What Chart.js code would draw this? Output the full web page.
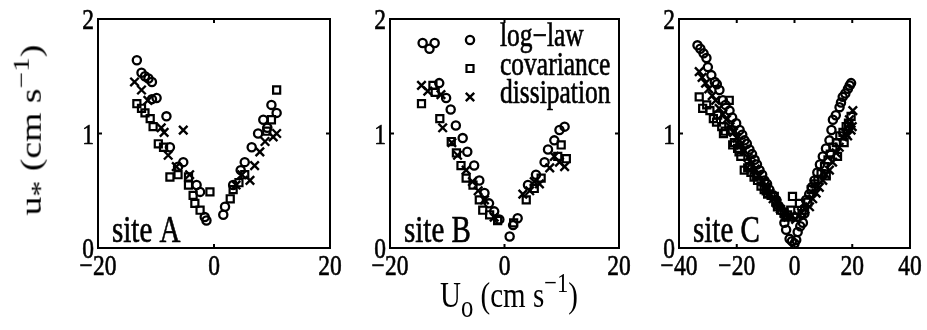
<!DOCTYPE html>
<html>
<head>
<meta charset="utf-8">
<script src="https://cdn.jsdelivr.net/npm/chart.js@4/dist/chart.umd.min.js"></script>
<style>
  body { margin: 0; background: #fff; width: 927px; height: 330px; overflow: hidden; position: relative;
         font-family: "Liberation Serif", "Times New Roman", serif; color: #000; }
  canvas { position: absolute; top: 0; }
  .axis-title { position: absolute; font-size: 29px; white-space: nowrap; line-height: 1; }
  .axis-title sup { font-size: 0.78em; vertical-align: 0.55em; }
  .axis-title sub { font-size: 0.85em; vertical-align: -0.3em; }
</style>
</head>
<body>
<canvas id="siteA" width="310" height="330" style="left:40px"></canvas>
<canvas id="siteB" width="310" height="330" style="left:332px"></canvas>
<canvas id="siteC" width="306" height="330" style="left:621px"></canvas>
<div class="axis-title" style="left:32px; top:130px; transform: translate(-50%,-50%) rotate(-90deg) scaleX(1.3);">u<sub>*</sub> (cm s<sup>&minus;1</sup>)</div>
<div class="axis-title" style="left:509px; top:296px; transform: translate(-50%,-50%) scaleY(1.25);">U<sub>o</sub> (cm s<sup>&minus;1</sup>)</div>
<script>
// U_o (cm/s) against friction velocity u* (cm/s), three estimates per site

const seriesNames = ['log\u2212law', 'covariance', 'dissipation'];
const siteNames = ['site A', 'site B', 'site C'];
const xLimitsAB = [-20, 20];
const xLimitsC = [-40, 40];
const yLimits = [0, 2];

// site A
const aLogX = [-13.3, -12.5, -11.9, -11.3, -10.7, -10.7, -9.9, -8.2, -7.6, -6.2, -5.3, -3.0, -2.4, -1.6, -1.3,
  1.6, 1.9, 3.3, 4.6, 5.3, 6.5, 7.6, 8.5, 9.2, 9.9, 10.8];
const aLogY = [1.64, 1.53, 1.50, 1.48, 1.45, 1.30, 1.31, 1.15, 0.88, 0.71, 0.75, 0.55, 0.49, 0.27, 0.24,
  0.29, 0.36, 0.55, 0.68, 0.75, 0.88, 1.00, 1.12, 1.05, 1.25, 1.18];
const aCovX = [-13.3, -12.5, -11.9, -11.0, -10.5, -9.6, -8.7, -7.6, -6.2, -4.4, -4.4, -3.6, -3.3, -2.4, -0.7,
  2.8, 3.3, 4.3, 5.3, 9.1, 9.9, 10.8];
const aCovY = [1.26, 1.22, 1.18, 1.13, 1.06, 0.91, 0.88, 0.62, 0.64, 0.62, 0.55, 0.46, 0.39, 0.33, 0.49,
  0.43, 0.51, 0.57, 0.64, 1.02, 1.12, 1.38];
const aDisX = [-13.7, -12.5, -11.4, -9.1, -8.6, -7.9, -6.5, -5.3, -4.2,
  3.8, 4.8, 6.2, 7.0, 7.9, 8.8, 10.2, 10.8];
const aDisY = [1.45, 1.38, 1.29, 1.05, 1.01, 0.81, 0.71, 1.03, 0.64,
  0.55, 0.64, 0.59, 0.72, 0.84, 0.93, 0.97, 1.00];

// site B
const bLogX = [-14.3, -13.1, -12.2, -11.4, -10.2, -9.4, -8.5, -7.3, -6.5, -5.3, -4.4, -3.5, -2.7, -1.8, -0.9,
  0.9, 1.5, 2.3, 4.1, 5.5, 7.0, 7.6, 8.7, 9.6, 10.5];
const bLogY = [1.79, 1.74, 1.79, 1.44, 1.31, 1.21, 1.07, 0.96, 0.84, 0.72, 0.59, 0.48, 0.39, 0.32, 0.25,
  0.10, 0.20, 0.26, 0.55, 0.64, 0.75, 0.86, 0.94, 1.03, 1.06];
const bCovX = [-14.5, -12.5, -12.1, -11.3, -9.3, -8.4, -7.6, -6.7, -5.5, -4.4, -3.8, -2.6, -1.2,
  1.6, 3.8, 5.2, 6.4, 9.3, 9.9, 10.8];
const bCovY = [1.26, 1.42, 1.36, 1.13, 0.93, 0.83, 0.72, 0.61, 0.55, 0.42, 0.33, 0.29, 0.24,
  0.22, 0.42, 0.52, 0.61, 0.80, 0.90, 0.78];
const bDisX = [-14.5, -13.4, -11.1, -10.8, -9.2, -8.2, -6.7, -5.6, -4.6, -3.5, -1.8,
  3.2, 4.4, 5.2, 6.1, 7.9, 8.7, 9.6, 10.5];
const bDisY = [1.42, 1.37, 1.34, 1.05, 0.92, 0.81, 0.68, 0.58, 0.50, 0.42, 0.27,
  0.47, 0.50, 0.58, 0.56, 0.70, 0.80, 0.75, 0.71];

// site C
const cLogX = [-33.6, -32.6, -31.5, -30.5, -30.0, -28.8, -27.6, -26.9, -26.0, -24.8, -23.9, -22.5, -21.6, -20.2,
  -19.0, -18.1, -17.3, -16.5, -15.6, -14.7, -13.8, -13.0, -12.1, -11.2, -10.4, -9.5, -8.7, -7.4, -6.3, -5.5,
  -4.6, -3.5, -2.9, -1.7, -0.9, 0.0,
  0.6, 1.1, 2.0, 2.9, 3.4, 4.0, 5.1, 6.0, 6.9, 7.9, 8.8, 9.8, 10.9, 12.1, 12.8, 13.3, 14.3, 15.6, 16.1, 16.7,
  17.6, 18.5, 19.1, 19.6];
const cLogY = [1.77, 1.74, 1.70, 1.66, 1.58, 1.51, 1.45, 1.43, 1.38, 1.29, 1.25, 1.20, 1.14, 1.09,
  1.03, 0.99, 0.94, 0.91, 0.86, 0.82, 0.77, 0.73, 0.68, 0.64, 0.59, 0.56, 0.51, 0.46, 0.42, 0.37,
  0.33, 0.22, 0.16, 0.08, 0.06, 0.04,
  0.07, 0.14, 0.19, 0.22, 0.30, 0.42, 0.47, 0.53, 0.59, 0.66, 0.73, 0.80, 0.87, 0.94, 1.03, 1.12, 1.16, 1.23, 1.27, 1.32,
  1.35, 1.39, 1.42, 1.44];
const cCovX = [-33.0, -31.8, -30.4, -29.3, -28.1, -27.0, -26.6, -25.2, -24.6, -24.0, -22.6, -22.0, -21.4, -20.8,
  -19.7, -19.2, -18.6, -17.4, -16.2, -15.6, -15.1, -14.0, -13.1, -12.8, -11.6, -10.5, -9.8, -9.3, -8.1, -7.0,
  -6.5, -5.9, -4.8, -3.6, -3.0, -2.4, -1.3, -0.7,
  0.6, 1.7, 2.6, 3.5, 4.6, 5.8, 7.1, 8.1, 9.2, 10.4, 11.0, 11.6, 12.4, 13.3, 14.5, 14.9, 15.7, 16.8, 17.2, 17.9,
  18.7, 19.6];
const cCovY = [1.32, 1.22, 1.25, 1.20, 1.13, 1.10, 1.16, 1.06, 1.00, 1.02, 1.29, 1.03, 0.90, 0.92,
  0.87, 0.84, 0.80, 0.68, 0.70, 0.71, 0.66, 0.62, 0.63, 0.59, 0.54, 0.51, 0.50, 0.47, 0.46, 0.45,
  0.40, 0.36, 0.33, 0.31, 0.27, 0.29, 0.33, 0.45,
  0.27, 0.39, 0.30, 0.33, 0.40, 0.51, 0.56, 0.60, 0.65, 0.71, 0.63, 0.77, 0.82, 0.88, 0.92, 0.80, 0.98, 1.01, 0.92, 1.06,
  1.09, 1.15];
const cDisX = [-33.0, -32.0, -30.8, -29.7, -28.5, -27.3, -26.1, -24.8, -23.6, -22.3, -21.1, -19.9, -18.6, -17.4,
  -16.1, -14.9, -13.6, -12.4, -11.1, -9.9, -8.6, -7.4, -6.1, -4.9, -3.6, -2.3, -1.1,
  0.4, 1.3, 2.4, 3.6, 5.2, 6.3, 7.5, 8.6, 9.8, 10.9, 12.1, 13.2, 14.4, 15.5, 16.7, 17.8, 18.4, 18.8, 19.0,
  19.6, 20.0, 20.2];
const cDisY = [1.54, 1.49, 1.44, 1.39, 1.33, 1.29, 1.22, 1.17, 1.12, 1.06, 1.01, 0.96, 0.90, 0.85,
  0.79, 0.74, 0.69, 0.63, 0.58, 0.53, 0.48, 0.43, 0.39, 0.34, 0.30, 0.27, 0.28,
  0.25, 0.28, 0.31, 0.34, 0.36, 0.43, 0.48, 0.53, 0.59, 0.64, 0.68, 0.75, 0.83, 0.88, 0.97, 1.00, 0.98, 1.08, 1.12,
  1.03, 1.06, 1.20];

const TEXT_STRETCH = 1.28;   // tall, narrow serif lettering
const FONT = '"Liberation Serif", "Times New Roman", serif';
const markers = [
  { pointStyle: 'circle', pointRadius: 4.1, pointBorderWidth: 2.3 },
  { pointStyle: 'rect', pointRadius: 5.0, pointBorderWidth: 2.2 },
  { pointStyle: 'crossRot', pointRadius: 6.0, pointBorderWidth: 2.4 }
];

function toPoints(xs, ys) {
  return xs.map((x, i) => ({ x: x, y: ys[i] }));
}

function fmt(v) {
  return v < 0 ? '\u2212' + Math.abs(v) : String(v);
}

function drawText(ctx, str, x, y, size, align) {
  ctx.save();
  ctx.font = size + 'px ' + FONT;
  ctx.textAlign = align;
  ctx.textBaseline = 'alphabetic';
  ctx.translate(x, y);
  ctx.scale(1, TEXT_STRETCH);
  ctx.lineWidth = 0.5;
  ctx.fillText(str, 0, 0);
  ctx.strokeText(str, 0, 0);
  ctx.restore();
}

function drawMarker(ctx, style, x, y) {
  ctx.beginPath();
  if (style === 'circle') {
    ctx.lineWidth = 2.3;
    ctx.arc(x, y, 4.1, 0, Math.PI * 2);
  } else if (style === 'rect') {
    ctx.lineWidth = 2.2;
    ctx.rect(x - 3.5, y - 3.5, 7, 7);
  } else {
    ctx.lineWidth = 2.4;
    ctx.moveTo(x - 4.2, y - 4.2); ctx.lineTo(x + 4.2, y + 4.2);
    ctx.moveTo(x - 4.2, y + 4.2); ctx.lineTo(x + 4.2, y - 4.2);
  }
  ctx.stroke();
}

// boxed axes with inward ticks, tick labels, panel name and optional key
const framePlugin = {
  id: 'frame',
  afterDraw(chart, args, opts) {
    const ctx = chart.ctx;
    const a = chart.chartArea;
    const xs = chart.scales.x, ys = chart.scales.y;
    ctx.save();
    ctx.strokeStyle = '#000';
    ctx.fillStyle = '#000';
    ctx.lineWidth = 2;
    ctx.strokeRect(a.left, a.top, a.right - a.left, a.bottom - a.top);
    ctx.beginPath();
    xs.ticks.forEach(t => {
      const p = xs.getPixelForValue(t.value);
      ctx.moveTo(p, a.bottom); ctx.lineTo(p, a.bottom - 4);
      ctx.moveTo(p, a.top); ctx.lineTo(p, a.top + 4);
    });
    ys.ticks.forEach(t => {
      const p = ys.getPixelForValue(t.value);
      ctx.moveTo(a.left, p); ctx.lineTo(a.left + 4, p);
      ctx.moveTo(a.right, p); ctx.lineTo(a.right - 4, p);
    });
    ctx.stroke();

    xs.ticks.forEach(t => drawText(ctx, fmt(t.value), xs.getPixelForValue(t.value), a.bottom + 27, 23.5, 'center'));
    ys.ticks.forEach(t => drawText(ctx, fmt(t.value), a.left - 4, ys.getPixelForValue(t.value) + 10, 23.5, 'right'));
    drawText(ctx, opts.site, a.left + 14, a.bottom - 6.5, 29, 'left');

    if (opts.legend) {
      seriesNames.forEach((name, i) => {
        const my = a.top + 21 + i * 28.5;
        drawMarker(ctx, markers[i].pointStyle, a.left + 80, my);
        drawText(ctx, name, a.left + 110, my + 6, 25.5, 'left');
      });
    }
    ctx.restore();
  }
};

function makePanel(id, site, xLimits, sets, yAxisWidth, rightPad, legend) {
  new Chart(document.getElementById(id), {
    type: 'scatter',
    data: {
      datasets: sets.map((s, i) => Object.assign({
        label: seriesNames[i],
        data: toPoints(s[0], s[1]),
        borderColor: '#000',
        backgroundColor: 'rgba(0,0,0,0)',
        pointBackgroundColor: 'rgba(0,0,0,0)',
        pointBorderColor: '#000'
      }, markers[i]))
    },
    options: {
      responsive: false,
      animation: false,
      events: [],
      layout: { padding: { top: 19, right: rightPad, bottom: 0, left: 0 } },
      plugins: {
        legend: { display: false },
        tooltip: { enabled: false },
        frame: { site: site, legend: legend }
      },
      scales: {
        x: {
          type: 'linear', min: xLimits[0], max: xLimits[1],
          ticks: { stepSize: 20, display: false },
          grid: { display: false, drawTicks: false },
          border: { display: false },
          afterFit: s => { s.height = 82; }
        },
        y: {
          type: 'linear', min: yLimits[0], max: yLimits[1],
          ticks: { stepSize: 1, display: false },
          grid: { display: false, drawTicks: false },
          border: { display: false },
          afterFit: s => { s.width = yAxisWidth; }
        }
      }
    },
    plugins: [framePlugin]
  });
}

makePanel('siteA', siteNames[0], xLimitsAB, [[aLogX, aLogY], [aCovX, aCovY], [aDisX, aDisY]], 58, 20, false);
makePanel('siteB', siteNames[1], xLimitsAB, [[bLogX, bLogY], [bCovX, bCovY], [bDisX, bDisY]], 58, 23, true);
makePanel('siteC', siteNames[2], xLimitsC, [[cLogX, cLogY], [cCovX, cCovY], [cDisX, cDisY]], 58, 17, false);
</script>
</body>
</html>
